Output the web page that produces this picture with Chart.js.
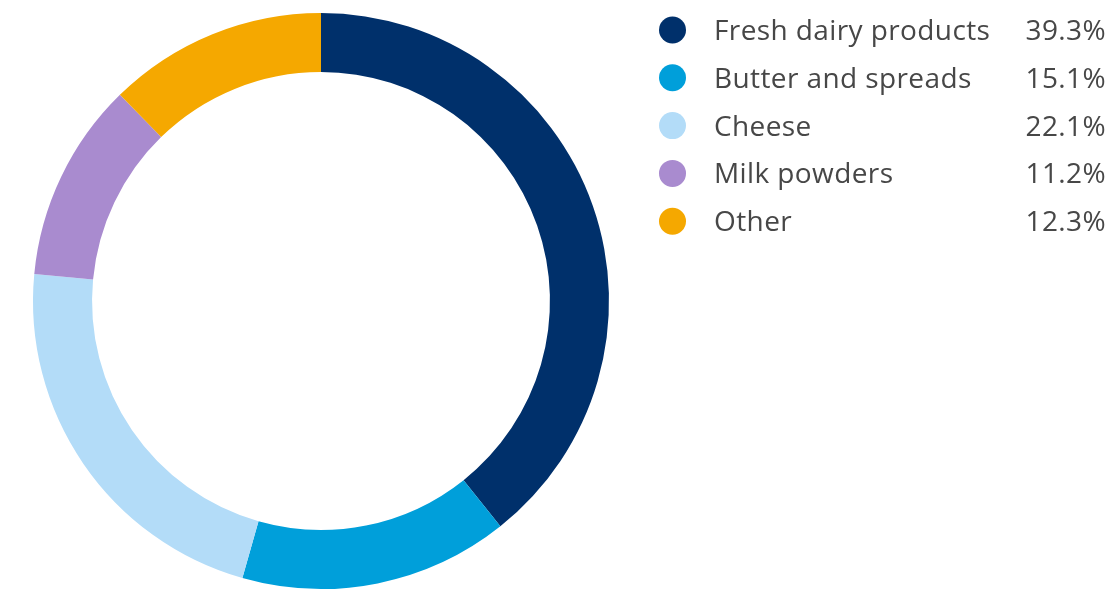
<!DOCTYPE html>
<html>
<head>
<meta charset="utf-8">
<style>
  html, body { margin: 0; padding: 0; background: #ffffff; }
  #wrap { width: 1116px; height: 592px; position: relative; }
</style>
<script src="https://cdn.jsdelivr.net/npm/chart.js@4/dist/chart.umd.min.js"></script>
</head>
<body>
<div id="wrap"><canvas id="c" width="1116" height="592"></canvas></div>
<script>
const categories = ["Fresh dairy products", "Butter and spreads", "Cheese", "Milk powders", "Other"];
const shares = [39.3, 15.1, 22.1, 11.2, 12.3];
const valueLabels = ["39.3%", "15.1%", "22.1%", "11.2%", "12.3%"];
const colors = ["#00306b", "#009fda", "#b3dcf8", "#a98bcf", "#f5a800"];

const legendPlugin = {
  id: 'sideLegend',
  afterDraw(chart) {
    const ctx = chart.ctx;
    ctx.save();
    const x0 = 672.5, tx = 714, vx = 1106, y0 = 30, dy = 47.8;
    ctx.font = '400 28px "Open Sans", sans-serif';
    try { ctx.letterSpacing = '0.4px'; } catch (e) {}
    ctx.textBaseline = 'middle';
    categories.forEach((cat, i) => {
      const y = y0 + i * dy;
      ctx.beginPath();
      ctx.arc(x0, y, 13.5, 0, Math.PI * 2);
      ctx.fillStyle = colors[i];
      ctx.fill();
      ctx.fillStyle = '#474747';
      ctx.textAlign = 'left';
      ctx.fillText(cat, tx, y + 2);
      ctx.textAlign = 'right';
      ctx.fillText(valueLabels[i], vx, y + 2);
    });
    ctx.restore();
  }
};

new Chart(document.getElementById('c'), {
  type: 'doughnut',
  data: {
    labels: categories,
    datasets: [{
      data: shares,
      backgroundColor: colors,
      borderWidth: 0,
      hoverOffset: 0
    }]
  },
  options: {
    responsive: false,
    animation: false,
    cutout: '79.5%',
    layout: { padding: { left: 33, top: 13, right: 507, bottom: 3 } },
    plugins: {
      legend: { display: false },
      tooltip: { enabled: false }
    }
  },
  plugins: [legendPlugin]
});
</script>
</body>
</html>
